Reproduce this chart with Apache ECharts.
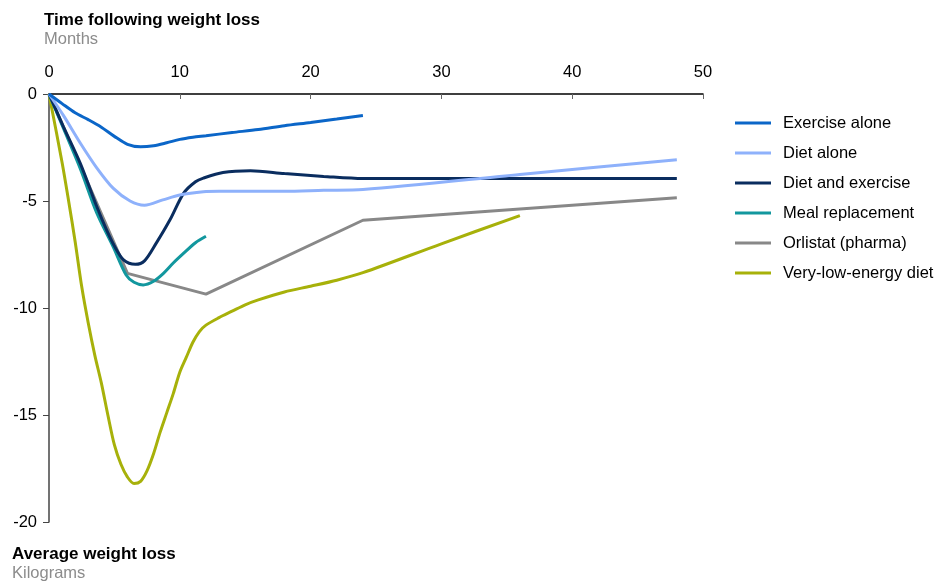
<!DOCTYPE html>
<html>
<head>
<meta charset="utf-8">
<script src="https://cdn.jsdelivr.net/npm/echarts@6/dist/echarts.min.js"></script>
<style>html,body{margin:0;padding:0;background:#fff}#c{width:939px;height:581px}</style>
</head>
<body>
<div id="c"></div>
<script>
var seriesNames = ['Exercise alone','Diet alone','Diet and exercise','Meal replacement','Orlistat (pharma)','Very-low-energy diet'];
var seriesColors = ['#0b66c8','#8eb1fb','#0a2d5f','#12979e','#888888','#a7b10a'];
var xTicks = [0,10,20,30,40,50];
var yTicks = [0,-5,-10,-15,-20];

var exerciseAlone = [[0,0],[1,-0.45],[2,-0.88],[3,-1.2],[4,-1.55],[5,-1.98],[6,-2.35],[7,-2.47],[8,-2.42],[9,-2.28],[10,-2.12],[11,-2.02],[12,-1.95],[14,-1.8],[16,-1.66],[18,-1.48],[20,-1.33],[22,-1.17],[24,-1.0]];
var dietAlone = [[0,0],[1.1,-1.0],[2.4,-2.3],[3.65,-3.45],[4.9,-4.4],[6.2,-5.0],[7.3,-5.2],[8.7,-4.95],[10,-4.72],[11.8,-4.57],[13,-4.55],[15,-4.55],[18,-4.55],[21,-4.5],[24,-4.46],[36,-3.76],[48,-3.07]];
var dietAndExercise = [[0,0],[1.1,-1.52],[2.4,-3.25],[3.65,-5.26],[4.4,-6.35],[5.0,-7.1],[5.7,-7.75],[6.6,-7.96],[7.3,-7.8],[8.2,-6.97],[9.25,-5.88],[10.3,-4.63],[11.2,-4.1],[11.8,-3.93],[13.3,-3.67],[15.4,-3.59],[18,-3.72],[21,-3.85],[24,-3.95],[36,-3.95],[48,-3.95]];
var mealReplacement = [[0,0],[1.1,-1.6],[2.4,-3.5],[3.65,-5.56],[4.9,-7.13],[5.9,-8.46],[6.5,-8.8],[7.2,-8.92],[8,-8.75],[8.75,-8.38],[9.5,-7.9],[10.3,-7.44],[11.2,-6.95],[12,-6.65]];
var orlistat = [[0,0],[6,-8.38],[12,-9.35],[24,-5.9],[36,-5.37],[48,-4.85]];
var veryLowEnergy = [[0,0],[1,-3.2],[1.5,-5.0],[2,-6.9],[2.5,-9.0],[3,-10.7],[3.5,-12.2],[4,-13.5],[4.5,-15.0],[5,-16.4],[5.5,-17.3],[6,-17.9],[6.5,-18.2],[7,-18.1],[7.5,-17.6],[8,-16.8],[8.5,-15.8],[9,-14.9],[9.5,-14.0],[10,-13.0],[10.5,-12.3],[11,-11.6],[11.5,-11.1],[12,-10.8],[13,-10.45],[14,-10.15],[15,-9.85],[16,-9.62],[18,-9.25],[20,-8.98],[22,-8.7],[24,-8.35],[30,-7.0],[36,-5.68]];

var allData = [exerciseAlone, dietAlone, dietAndExercise, mealReplacement, orlistat, veryLowEnergy];

var chart = echarts.init(document.getElementById('c'), null, {renderer:'canvas'});
var FONT = '"Liberation Sans", Arial, sans-serif';
chart.setOption({
  animation:false,
  backgroundColor:'#fff',
  title:[
    {text:'Time following weight loss', subtext:'Months', left:39, top:7, itemGap:2,
     textStyle:{fontFamily:FONT,fontSize:17,fontWeight:'bold',color:'#000'},
     subtextStyle:{fontFamily:FONT,fontSize:16.5,color:'#8c8c8c'}},
    {text:'Average weight loss', subtext:'Kilograms', left:7, top:541, itemGap:2,
     textStyle:{fontFamily:FONT,fontSize:17,fontWeight:'bold',color:'#000'},
     subtextStyle:{fontFamily:FONT,fontSize:16.5,color:'#8c8c8c'}}
  ],
  legend:{
    orient:'vertical', left:730, top:108, itemWidth:36, itemHeight:3, itemGap:10,
    icon:'rect',
    textStyle:{fontFamily:FONT,fontSize:16.5,color:'#000',lineHeight:20,padding:[0,0,0,7]},
    data:seriesNames
  },
  grid:{left:49, right:236, top:94, bottom:59, containLabel:false},
  xAxis:{
    type:'value', position:'top', min:0, max:50, interval:10,
    axisLine:{show:true, lineStyle:{color:'#000', width:1.5}},
    axisTick:{show:true, inside:true, length:5, lineStyle:{color:'#666'}},
    axisLabel:{fontFamily:FONT, fontSize:16.5, color:'#000', margin:13,
      formatter:function(v){return xTicks.indexOf(v)>=0 ? String(v) : '';}},
    splitLine:{show:false}
  },
  yAxis:{
    type:'value', min:-20, max:0, interval:5,
    axisLine:{show:true, lineStyle:{color:'#444', width:1.5}},
    axisTick:{show:true, inside:false, length:6, lineStyle:{color:'#444'}},
    axisLabel:{fontFamily:FONT, fontSize:16.5, color:'#000', margin:12,
      formatter:function(v){return yTicks.indexOf(v)>=0 ? String(v) : '';}},
    splitLine:{show:false}
  },
  series: seriesNames.map(function(n,i){
    return {name:n, type:'line', data:allData[i], showSymbol:false, symbol:'none',
      smooth: i===4 ? false : 0.3,
      color:seriesColors[i],
      lineStyle:{color:seriesColors[i], width:3}, z: 10-i};
  })
});
</script>
</body>
</html>
